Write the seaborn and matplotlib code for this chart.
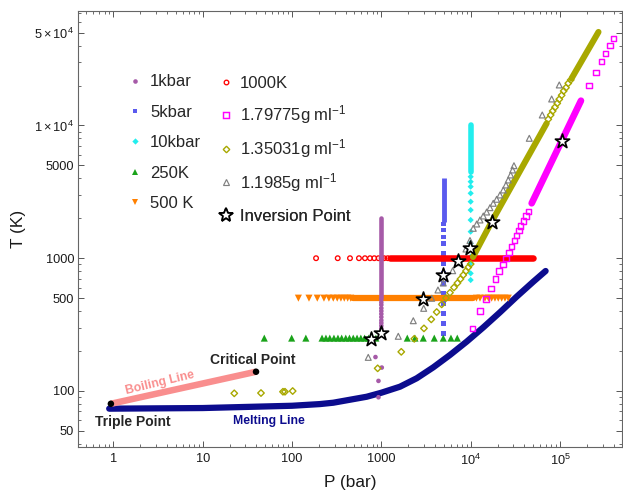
import matplotlib
matplotlib.use("Agg")
import matplotlib.pyplot as plt
import seaborn as sns
from matplotlib.lines import Line2D
from matplotlib.ticker import FixedLocator, FixedFormatter, LogLocator, NullFormatter

# ---------------- data (P in bar, T in K) ----------------
melt_P = [0.9, 10, 100, 206, 290, 686, 1000, 1617, 2487, 3818, 5867, 9010, 13840, 21270, 32700, 50200, 69000]
melt_T = [73.5, 74.3, 77.3, 79.6, 81.5, 90.4, 96.9, 107.6, 124.5, 150.6, 186.6, 235, 301, 391, 513, 665, 801]
boil_P = [0.94, 39.6]
boil_T = [80, 139.5]
special_P = [0.94, 39.6]          # triple point, critical point
special_T = [80, 139.5]

# 1 kbar isobar
kbar1_run_P = [1000, 1000]
kbar1_run_T = [513, 2000]
kbar1_P = [1000, 1000, 1000, 1000, 1000, 1000, 1000, 1000, 1000, 1000, 1000, 1000, 1000, 860, 1012, 929, 929]
kbar1_T = [490, 465, 445, 420, 400, 380, 360, 340, 325, 310, 295, 280, 265, 180, 150, 119, 89.6]

# 5 kbar isobar
kbar5_run_P = [5000, 5000]
kbar5_run_T = [1884, 4000]
kbar5_P = [5000, 5000, 5000, 5000, 5000, 5000, 5000, 5000, 5000, 5000, 5000, 5000, 5000]
kbar5_T = [1810, 1631, 1445, 1295, 1089, 915, 769, 647, 544, 457, 384, 323, 272]

# 10 kbar isobar
kbar10_run_P = [10000, 10000]
kbar10_run_T = [4487, 10090]
kbar10_P = [10000, 10000, 10000, 10000, 10000, 10000, 10000, 10000, 10000, 10000, 10000, 10000, 10000]
kbar10_T = [4110, 3772, 3460, 3085, 2667, 2307, 1940, 1585, 1295, 1026, 915, 769, 685]

# 250 K isotherm
k250_P = [49, 99.2, 143, 217, 240, 265, 295, 327, 360, 400, 440, 485, 535, 590, 650, 720, 790, 870,
          1952, 2380, 2948, 3914, 4935, 6018, 7080]
k250_T = [250] * 25

# 500 K isotherm
k500_run_P = [480, 10700]
k500_run_T = [500, 500]
k500_P = [118, 155, 192, 228, 259, 290, 321, 353, 385, 420, 454,
          11610, 12710, 14460, 15820, 17170, 18700, 20360, 22230, 24200, 26360]
k500_T = [500] * 21

# 1000 K isotherm
k1000_run_P = [1250, 50000]
k1000_run_T = [1000, 1000]
k1000_P = [186, 325, 446, 562, 656, 747, 834, 930, 1010, 1075, 1180]
k1000_T = [1000] * 11

# 1.79775 g/ml isochore
d179_run_P = [48170, 171600]
d179_run_T = [2593, 15380]
d179_P = [10420, 12710, 14840, 16880, 18950, 20840, 22990, 24830, 26840, 28630, 30760, 32730, 34730,
          36280, 38800, 41580, 44130, 210900, 252700, 289500, 324300, 362300, 398600]
d179_T = [296, 400, 493, 593, 697, 801, 899, 1000, 1104, 1219, 1354, 1488, 1611,
          1749, 1908, 2080, 2241, 20100, 25200, 30300, 35000, 40200, 45100]

# 1.35031 g/ml isochore
d135_run1_P = [10610, 17180, 70900]
d135_run1_T = [1021, 1884, 10390]
d135_run2_P = [135000, 269400]
d135_run2_T = [22690, 50650]
d135_P = [22.6, 45, 79.3, 83.5, 101.8, 910, 1672, 2338, 3000, 3623, 4165, 4736, 5291, 5866, 6505,
          7117, 7691, 8265, 8860, 9400, 10000,
          73880, 78620, 82770, 87830, 93160, 98070, 104300, 109900, 116600, 123700, 131600]
d135_T = [95.9, 96.4, 98.6, 98.6, 99.8, 148, 197, 247, 296, 346, 393, 449, 501, 550, 602,
          650, 697, 747, 801, 854, 904,
          11140, 12000, 12860, 13720, 14700, 15760, 16890, 18200, 19270, 20800, 22030]

# 1.1985 g/ml isochore
d119_P = [714, 1548, 2279, 2979, 3660, 4306, 4935, 6289, 7457, 8860, 9822, 10690, 11680, 12710, 13840,
          15100, 16440, 17900, 19540, 21280, 23180, 24840, 26350, 28030, 29510, 30520,
          45280, 63270, 80630, 98070]
d119_T = [179, 258, 338, 419, 499, 576, 650, 805, 925, 1173, 1359, 1680, 1810, 1941, 2080,
          2228, 2403, 2593, 2779, 2995, 3266, 3561, 3885, 4237, 4620, 4977,
          8007, 12000, 15840, 20200]

# inversion points
inv_P = [766, 991, 2948, 4935, 7303, 9822, 17180, 105200]
inv_T = [245, 273, 493, 747, 961, 1188, 1884, 7603]

x_ticks = [1, 10, 100, 1000, 1e4, 1e5]
x_ticklabels = ['1', '10', '100', '1000', r'$10^{4}$', r'$10^{5}$']
y_ticks = [50, 100, 500, 1000, 5000, 1e4, 5e4]
y_ticklabels = ['50', '100', '500', '1000', '5000', r'$1\times10^{4}$', r'$5\times10^{4}$']

legend1_labels = ['1kbar', '5kbar', '10kbar', '250K', '500 K']
legend2_labels = ['1000K', r'1.79775g ml$^{-1}$', r'1.35031g ml$^{-1}$', r'1.1985g ml$^{-1}$', 'Inversion Point']

# ---------------- style ----------------
sns.set_theme(style="ticks")
plt.rcParams['font.family'] = ['Liberation Sans', 'DejaVu Sans']
plt.rcParams['mathtext.fontset'] = 'custom'
plt.rcParams['mathtext.rm'] = 'Liberation Sans'
plt.rcParams['mathtext.it'] = 'Liberation Sans:italic'
plt.rcParams['mathtext.bf'] = 'Liberation Sans:bold'

C_PURPLE = '#a65aa8'
C_BLUE = '#5a5aee'
C_CYAN = '#22eeee'
C_GREEN = '#1aa31a'
C_ORANGE = '#ff8000'
C_RED = '#ff0000'
C_MAGENTA = '#ff00ff'
C_OLIVE = '#a8a800'
C_GRAY = '#808080'
C_NAVY = '#0c0c8e'
C_SALMON = '#f98e8e'

fig = plt.figure(figsize=(6.23, 4.92), dpi=100)
ax = fig.add_axes([78.3 / 623, 1 - 447.3 / 492, (622 - 78.3) / 623, (447.3 - 11) / 492])
ax.set_xscale('log')
ax.set_yscale('log')
ax.set_xlim(0.406, 4.94e5)
ax.set_ylim(37.6, 72900)


def run(P, T, color, lw, z, cap='round'):
    sns.lineplot(x=P, y=T, ax=ax, sort=False, estimator=None, color=color, linewidth=lw,
                 solid_capstyle=cap, legend=False, zorder=z)


def pts(P, T, marker, s, color, z, filled=True, lw=0.0):
    if filled:
        sns.scatterplot(x=P, y=T, ax=ax, marker=marker, s=s, color=color, edgecolor='none',
                        linewidth=0, legend=False, zorder=z)
    else:
        sns.scatterplot(x=P, y=T, ax=ax, marker=marker, s=s, color=color, facecolor='none',
                        edgecolor=color, linewidth=lw, legend=False, zorder=z)


# phase lines
run(melt_P, melt_T, C_NAVY, 4.5, 2)
run(boil_P, boil_T, C_SALMON, 4.7, 2, cap='butt')
pts(special_P, special_T, 'o', 22, 'black', 4)

# isobars / isotherms / isochores
run(kbar5_run_P, kbar5_run_T, C_BLUE, 3.5, 3.0, cap='butt')
pts(kbar5_P, kbar5_T, 's', 12.5, C_BLUE, 3.0)
run(kbar10_run_P, kbar10_run_T, C_CYAN, 4.0, 3.1)
pts(kbar10_P, kbar10_T, 'D', 10, C_CYAN, 3.1)
pts(k250_P, k250_T, '^', 26, C_GREEN, 3.2)
run(k500_run_P, k500_run_T, C_ORANGE, 4.5, 3.3)
pts(k500_P, k500_T, 'v', 26, C_ORANGE, 3.3)
run(k1000_run_P, k1000_run_T, C_RED, 4.7, 3.4)
pts(k1000_P, k1000_T, 'o', 11, C_RED, 3.4, filled=False, lw=0.95)
run(kbar1_run_P, kbar1_run_T, C_PURPLE, 3.3, 3.5)
pts(kbar1_P, kbar1_T, 'o', 11, C_PURPLE, 3.5)
run(d179_run_P, d179_run_T, C_MAGENTA, 4.8, 3.6)
pts(d179_P, d179_T, 's', 15, C_MAGENTA, 3.6, filled=False, lw=1.05)
run(d135_run1_P, d135_run1_T, C_OLIVE, 4.4, 3.7)
run(d135_run2_P, d135_run2_T, C_OLIVE, 4.4, 3.7)
pts(d135_P, d135_T, 'D', 11, C_OLIVE, 3.7, filled=False, lw=1.0)
pts(d119_P, d119_T, '^', 18, C_GRAY, 3.8, filled=False, lw=0.85)

sns.scatterplot(x=inv_P, y=inv_T, ax=ax, marker='*', s=115, color='white', edgecolor='black',
                linewidth=1.25, legend=False, zorder=6)

# annotations
ax.text(36.6, 158.7, 'Critical Point', fontsize=10, fontweight='bold', ha='center', va='baseline', zorder=7)
ax.text(1.66, 54.4, 'Triple Point', fontsize=10, fontweight='bold', ha='center', va='baseline', zorder=7)
ax.text(55.6, 56.3, 'Melting Line', fontsize=8.8, fontweight='bold', color=C_NAVY, ha='center',
        va='baseline', zorder=7)
ax.text(3.33, 114, 'Boiling Line', fontsize=8.8, fontweight='bold', color=C_SALMON, ha='center',
        va='center', rotation=13.5, rotation_mode='anchor', zorder=7)

# axes styling
ax.xaxis.set_major_locator(FixedLocator(x_ticks))
ax.xaxis.set_major_formatter(FixedFormatter(x_ticklabels))
ax.xaxis.set_minor_locator(LogLocator(base=10, subs=(2, 3, 4, 5, 6, 7, 8, 9), numticks=50))
ax.xaxis.set_minor_formatter(NullFormatter())
ax.yaxis.set_major_locator(FixedLocator(y_ticks))
ax.yaxis.set_major_formatter(FixedFormatter(y_ticklabels))
ax.yaxis.set_minor_locator(LogLocator(base=10, subs=(2, 3, 4, 6, 7, 8, 9), numticks=50))
ax.yaxis.set_minor_formatter(NullFormatter())

ax.tick_params(which='both', direction='in', top=True, right=True, colors='#555555',
               labelcolor='#1a1a1a', labelsize=9.2)
ax.tick_params(which='major', length=4.5, width=0.7)
ax.tick_params(which='minor', length=2.5, width=0.6)
ax.tick_params(axis='y', pad=3)
ax.tick_params(axis='x', pad=4)
for sp in ax.spines.values():
    sp.set_color('#666666')
    sp.set_linewidth(0.8)

ax.set_xlabel('P (bar)', fontsize=12.4, color='#1a1a1a')
ax.set_ylabel('T (K)', fontsize=12.4, color='#1a1a1a')
ax.xaxis.label.set_va('center')
ax.yaxis.label.set_va('center')
ax.xaxis.set_label_coords(0.5, -0.081)
ax.yaxis.set_label_coords(-0.110, 0.5)

# legends
def h(marker, ms, fc, ec, mew=0.0):
    return Line2D([], [], ls='none', marker=marker, markersize=ms, markerfacecolor=fc,
                  markeredgecolor=ec, markeredgewidth=mew)

hand1 = [h('o', 3.3, C_PURPLE, 'none'), h('s', 3.5, C_BLUE, 'none'), h('D', 3.2, C_CYAN, 'none'),
         h('^', 5.0, C_GREEN, 'none'), h('v', 5.0, C_ORANGE, 'none')]
hand2 = [h('o', 3.3, 'none', C_RED, 0.95), h('s', 3.8, 'none', C_MAGENTA, 1.05),
         h('D', 3.3, 'none', C_OLIVE, 1.0), h('^', 4.2, 'none', C_GRAY, 0.85),
         h('*', 10.7, 'white', 'black', 1.25)]

leg1 = ax.legend(hand1, legend1_labels, loc='upper left', bbox_to_anchor=(127.4 / 623, 1 - 74.5 / 492),
                 bbox_transform=fig.transFigure, frameon=False, fontsize=12, handlelength=0.92,
                 handletextpad=0.44, labelspacing=0.92, borderpad=0, borderaxespad=0)
ax.add_artist(leg1)

# second column: one row each so that every row sits at its own height
row_y_px = [83.3, 114.6, 148.6, 182.3, 216.6]
for i, (hd, lab, ypx) in enumerate(zip(hand2, legend2_labels, row_y_px)):
    lg = ax.legend([hd], [lab], loc='center left', bbox_to_anchor=(218.1 / 623, 1 - ypx / 492),
                   bbox_transform=fig.transFigure, frameon=False, fontsize=12, handlelength=0.92,
                   handletextpad=0.40, borderpad=0, borderaxespad=0)
    ax.add_artist(lg)

fig.savefig('out.png', dpi=100)
